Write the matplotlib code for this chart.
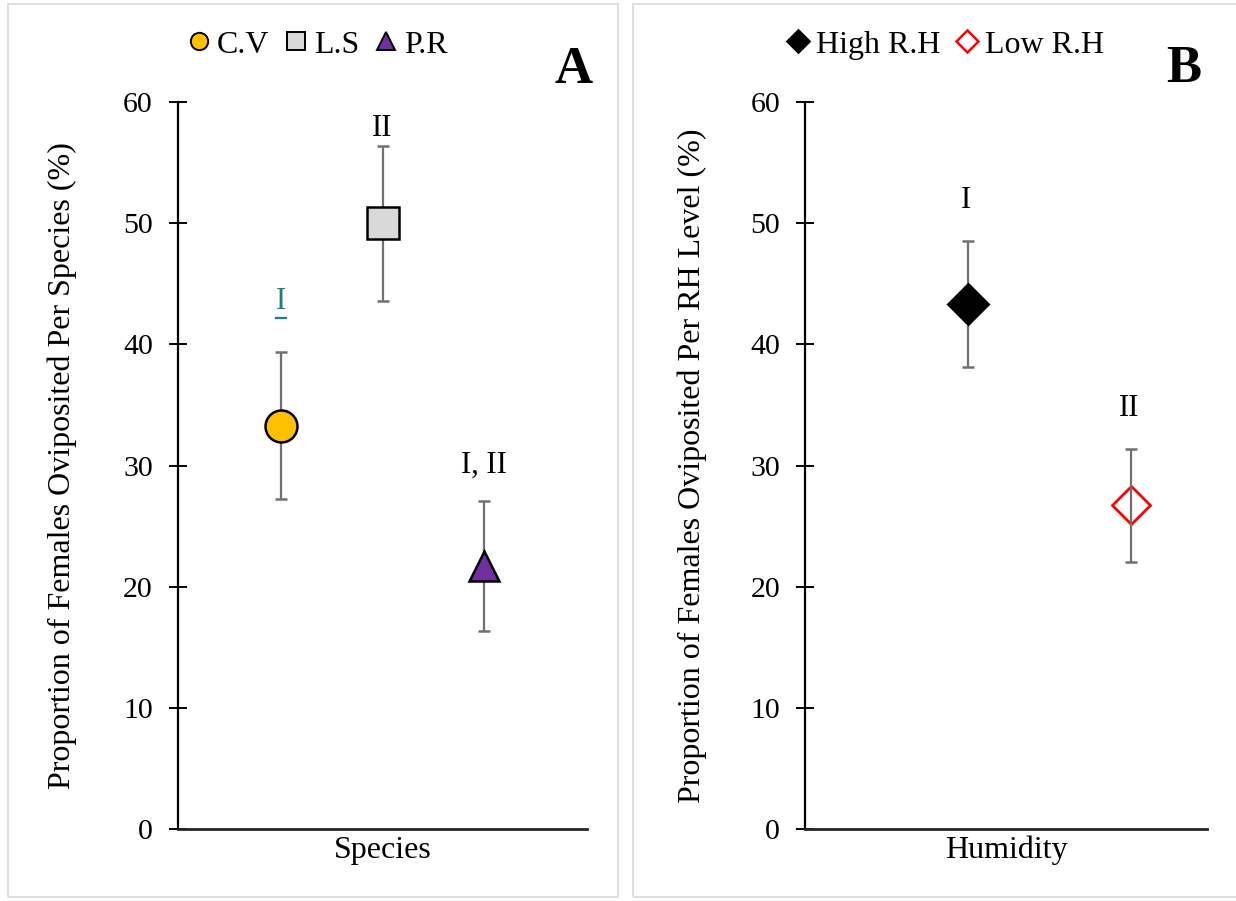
import matplotlib.pyplot as plt
from matplotlib.lines import Line2D
from matplotlib.patches import Rectangle

plt.rcParams['font.family'] = ['Liberation Serif', 'DejaVu Serif']

# panel A data
species = ["C.V", "L.S", "P.R"]
species_mean = [33.3, 50.0, 21.7]
species_err = [6.1, 6.4, 5.35]
species_groups = ["I", "II", "I, II"]
species_group_y = [43.5, 57.8, 30.0]
species_face = ["#ffc000", "#d9d9d9", "#7030a0"]
species_marker = ["o", "s", "^"]

# panel B data
humidity = ["High R.H", "Low R.H"]
humidity_mean = [43.3, 26.7]
humidity_err = [5.2, 4.65]
humidity_groups = ["I", "II"]
humidity_group_y = [51.9, 34.7]

yticks = [0, 10, 20, 30, 40, 50, 60]

fig = plt.figure(figsize=(12.36, 9.01), dpi=100)

# light grey frames round each panel
for x0, w in [(8, 610), (633, 610)]:
    fig.add_artist(Rectangle((x0 / 1236, 4 / 901), w / 1236, 893 / 901,
                             transform=fig.transFigure, fill=False,
                             edgecolor="#d9d9d9", lw=1.2))

axA = fig.add_axes([178 / 1236, 1 - 829 / 901, (587 - 178) / 1236, (829 - 102) / 901])
axB = fig.add_axes([805 / 1236, 1 - 829 / 901, (1207 - 805) / 1236, (829 - 102) / 901])


def style(ax, ylabel, xlabel, ylab_x):
    ax.set_ylim(0, 60)
    ax.set_yticks(yticks)
    ax.set_xticks([])
    for s in ["top", "right"]:
        ax.spines[s].set_visible(False)
    ax.spines["left"].set_linewidth(1.6)
    ax.spines["bottom"].set_linewidth(2.0)
    ax.spines["bottom"].set_color("#262626")
    ax.tick_params(axis="y", direction="inout", length=13, width=1.4, labelsize=21.5, pad=11.5)
    ax.set_ylabel(ylabel, fontsize=23)
    ax.yaxis.set_label_coords(ylab_x, 0.5)
    ax.set_xlabel(xlabel, fontsize=23, labelpad=5)


err_kw = dict(ecolor="#707070", elinewidth=1.6, capsize=4.5, capthick=1.8, ls="none", zorder=1)

# panel A
handles = []
for i, name in enumerate(species):
    x = i + 1
    axA.errorbar(x, species_mean[i], yerr=species_err[i], **err_kw)
    axA.plot(x, species_mean[i], marker=species_marker[i], ms=23 if i < 2 else 22,
             mfc=species_face[i], mec="black", mew=1.8, ls="none", zorder=3)
    handles.append(Line2D([], [], marker=species_marker[i], ls="none", ms=12.5,
                          mfc=species_face[i], mec="black", mew=1.4, label=name))
    if i == 0:
        axA.text(x, species_group_y[i], species_groups[i], ha="center", va="center",
                 fontsize=22, color="#1a8080")
        axA.plot([x - 0.05, x + 0.05], [species_group_y[i] - 1.3] * 2, color="#1a8080", lw=1.6)
    else:
        axA.text(x, species_group_y[i], species_groups[i], ha="center", va="center", fontsize=22)
axA.set_xlim(-0.015, 4.015)
style(axA, "Proportion of Females Oviposited Per Species (%)", "Species", -0.247)
fig.legend(handles=handles, loc="center", bbox_to_anchor=(316 / 1236, 1 - 45 / 901),
           ncol=3, frameon=False, fontsize=23, handletextpad=0.1, columnspacing=0.4,
           handlelength=0.9)
fig.text(574 / 1236, 1 - 70 / 901, "A", fontsize=38, fontweight="bold", ha="center", va="center")

# panel B
hb = []
styles_b = [dict(mfc="black", mec="black"), dict(mfc="white", mec="red")]
sizes_b = [20, 19.5]
for i, name in enumerate(humidity):
    x = i + 1
    axB.errorbar(x, humidity_mean[i], yerr=humidity_err[i], **err_kw)
    axB.plot(x, humidity_mean[i], marker="D", ms=sizes_b[i], mew=2, ls="none",
             zorder=3 if i == 0 else 0, **styles_b[i])
    hb.append(Line2D([], [], marker="D", ls="none", ms=11, mew=1.8, label=name, **styles_b[i]))
    axB.text(x - 0.01, humidity_group_y[i], humidity_groups[i],
             ha="center", va="center", fontsize=22)
axB.set_xlim(0, 2.466)
style(axB, "Proportion of Females Oviposited Per RH Level (%)", "Humidity", -0.244)
fig.legend(handles=hb, loc="center", bbox_to_anchor=(944 / 1236, 1 - 45 / 901),
           ncol=2, frameon=False, fontsize=23, handletextpad=0.1, columnspacing=0.4,
           handlelength=0.9)
fig.text(1184 / 1236, 1 - 69 / 901, "B", fontsize=38, fontweight="bold", ha="center", va="center")

fig.savefig("out.png", dpi=100)
